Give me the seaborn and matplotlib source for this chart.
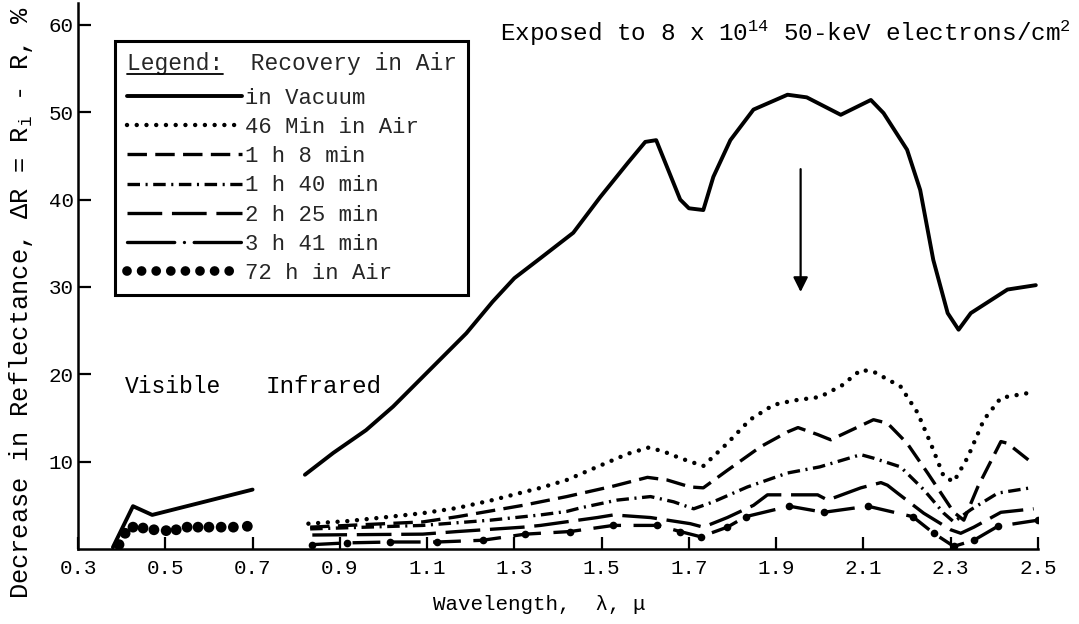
import numpy as np
import pandas as pd
import matplotlib
matplotlib.use("Agg")
import matplotlib.pyplot as plt
from matplotlib.lines import Line2D
import seaborn as sns

# ---------------- data ----------------
vac_vis_x = [0.38, 0.426, 0.47, 0.70]
vac_vis_y = [0.2, 4.9, 3.9, 6.8]

vac_ir_x = [0.82, 0.885, 0.96, 1.022, 1.09, 1.19, 1.25, 1.30, 1.36, 1.435, 1.497, 1.56,
            1.60, 1.625, 1.68, 1.70, 1.733, 1.756, 1.795, 1.848, 1.926, 1.97, 2.048,
            2.117, 2.146, 2.20, 2.23, 2.26, 2.293, 2.318, 2.346, 2.43, 2.495]
vac_ir_y = [8.5, 11.0, 13.6, 16.3, 19.7, 24.7, 28.3, 31.0, 33.3, 36.2, 40.3, 44.2,
            46.6, 46.8, 40.0, 39.0, 38.8, 42.6, 46.8, 50.3, 52.0, 51.7, 49.7,
            51.4, 49.9, 45.7, 41.1, 33.1, 27.0, 25.1, 27.0, 29.7, 30.2]

m46_x = [0.828, 0.92, 1.016, 1.09, 1.17, 1.25, 1.32, 1.36, 1.42, 1.513, 1.56, 1.607,
         1.64, 1.68, 1.733, 1.788, 1.84, 1.894, 1.94, 2.0, 2.05, 2.094, 2.123, 2.185,
         2.224, 2.254, 2.284, 2.307, 2.339, 2.376, 2.415, 2.483]
m46_y = [2.9, 3.2, 3.7, 4.1, 4.7, 5.6, 6.5, 7.0, 7.9, 9.9, 10.9, 11.6,
         11.2, 10.4, 9.5, 12.1, 14.8, 16.5, 17.0, 17.4, 18.7, 20.5, 20.3, 18.6,
         15.6, 12.1, 8.3, 7.7, 10.5, 14.8, 17.3, 17.9]

h1m8_x = [0.832, 1.09, 1.17, 1.32, 1.42, 1.527, 1.605, 1.65, 1.703, 1.733, 1.788, 1.864,
          1.926, 1.95, 1.995, 2.025, 2.123, 2.155, 2.2, 2.247, 2.307, 2.33, 2.362,
          2.415, 2.43, 2.483]
h1m8_y = [2.5, 3.1, 3.7, 5.0, 6.0, 7.2, 8.2, 7.9, 7.1, 7.0, 9.0, 11.7,
          13.4, 13.9, 13.1, 12.5, 14.8, 14.4, 12.1, 8.7, 4.2, 3.3, 7.1,
          12.3, 12.1, 10.0]

h1m40_x = [0.832, 1.09, 1.245, 1.36, 1.42, 1.451, 1.536, 1.612, 1.665, 1.711, 1.756,
           1.834, 1.926, 2.0, 2.094, 2.123, 2.185, 2.238, 2.284, 2.307, 2.346, 2.408, 2.483]
h1m40_y = [2.3, 2.7, 3.3, 3.9, 4.3, 4.7, 5.6, 6.0, 5.4, 4.6, 5.4,
           7.1, 8.7, 9.4, 10.8, 10.4, 9.4, 6.8, 4.1, 3.1, 4.5, 6.4, 7.0]

h2m25_x = [0.837, 1.09, 1.17, 1.32, 1.36, 1.49, 1.527, 1.612, 1.703, 1.733, 1.788,
           1.848, 1.88, 1.995, 2.018, 2.094, 2.14, 2.155, 2.178, 2.238, 2.30, 2.323,
           2.353, 2.415, 2.49]
h2m25_y = [1.6, 1.7, 2.0, 2.5, 2.7, 3.6, 3.9, 3.6, 2.9, 2.5, 3.6,
           5.0, 6.2, 6.2, 5.6, 7.0, 7.6, 7.3, 6.4, 4.1, 2.2, 1.8,
           2.5, 4.2, 4.6]

h3m41_x = [0.837, 0.917, 1.016, 1.123, 1.227, 1.325, 1.428, 1.527, 1.628, 1.68, 1.727,
           1.788, 1.83, 1.93, 2.009, 2.11, 2.213, 2.261, 2.307, 2.353, 2.408, 2.50]
h3m41_y = [0.5, 0.7, 0.8, 0.8, 1.0, 1.7, 2.0, 2.7, 2.7, 2.0, 1.4,
           2.5, 3.7, 4.9, 4.2, 4.9, 3.7, 1.8, 0.3, 1.0, 2.6, 3.3]

h72_x = [0.394, 0.408, 0.426, 0.449, 0.474, 0.502, 0.525, 0.55, 0.575, 0.60, 0.628, 0.656, 0.688]
h72_y = [0.5, 1.8, 2.5, 2.4, 2.2, 2.1, 2.2, 2.5, 2.5, 2.5, 2.5, 2.5, 2.6]

labels = ["in Vacuum", "46 Min in Air", "1 h 8 min", "1 h 40 min",
          "2 h 25 min", "3 h 41 min", "72 h in Air"]
x_ticks = [0.3, 0.5, 0.7, 0.9, 1.1, 1.3, 1.5, 1.7, 1.9, 2.1, 2.3, 2.5]
x_ticklabels = ["0.3", "0.5", "0.7", "0.9", "1.1", "1.3", "1.5", "1.7", "1.9", "2.1", "2.3", "2.5"]
y_ticks = [10, 20, 30, 40, 50, 60]

arrow_x = 1.956
arrow_from, arrow_to = 43.8, 29.1

# ---------------- style ----------------
sns.set_theme(style="white")
FONT = ["Liberation Mono", "DejaVu Sans Mono"]
plt.rcParams["font.family"] = FONT
plt.rcParams["mathtext.default"] = "regular"
plt.rcParams["lines.scale_dashes"] = False

fig = plt.figure(figsize=(10.79, 6.24), dpi=100)
ax = fig.add_axes([0.0723, 0.1202, 0.8897, 0.875])

K = "black"

def draw(x, y, **kw):
    df = pd.DataFrame({"x": x, "y": y})
    sns.lineplot(data=df, x="x", y="y", ax=ax, color=K, estimator=None, sort=False, **kw)
    return ax.lines[-1]

h_vac = draw(vac_vis_x, vac_vis_y, lw=2.8, solid_joinstyle="round")
draw(vac_ir_x, vac_ir_y, lw=2.8, solid_joinstyle="round")
h_46 = draw(m46_x, m46_y, lw=3.2, linestyle=(0, (0.01, 7.0)), dash_capstyle="round")
h_108 = draw(h1m8_x, h1m8_y, lw=2.4, linestyle=(0, (14, 6)))
h_140 = draw(h1m40_x, h1m40_y, lw=2.4, linestyle=(0, (9, 4, 1.5, 4)))
h_225 = draw(h2m25_x, h2m25_y, lw=2.4, linestyle=(0, (25, 7)))
draw(h3m41_x, h3m41_y, lw=2.4, linestyle=(0, (20, 9)), marker="o",
     markersize=5.5, markeredgewidth=0)
sns.scatterplot(x=h72_x, y=h72_y, ax=ax, color=K, s=60, edgecolor="none")

ax.annotate("", xy=(arrow_x, arrow_to), xytext=(arrow_x, arrow_from),
            arrowprops=dict(arrowstyle="-|>", color=K, lw=1.6, mutation_scale=22))

# axes
ax.set_xlim(0.3, 2.5)
ax.set_ylim(0, 62.5)
ax.set_xticks(x_ticks)
ax.set_xticklabels(x_ticklabels)
ax.set_yticks(y_ticks)
sns.despine(ax=ax)
for s in ["left", "bottom"]:
    ax.spines[s].set_linewidth(1.8)
    ax.spines[s].set_color(K)
ax.tick_params(axis="both", direction="in", length=9, width=1.6, colors=K,
               labelsize=15, bottom=True, left=True)
ax.tick_params(axis="x", pad=7)
ax.tick_params(axis="y", pad=3)

ax.set_xlabel("Wavelength,  λ, μ", fontsize=15, color=K)
ax.xaxis.set_label_coords(0.48, -0.085)
ax.set_ylabel("Decrease in Reflectance, ΔR = R$_{i}$ - R, %", fontsize=18.3, color=K)
ax.yaxis.set_label_coords(-0.045, 0.45)

ax.text(0.44, 0.945, "Exposed to 8 x 10$^{14}$ 50-keV electrons/cm$^{2}$",
        transform=ax.transAxes, fontsize=17.5, ha="left", va="center", color=K)
ax.text(0.049, 0.297, "Visible", transform=ax.transAxes, fontsize=16.5,
        ha="left", va="center", color=K)
ax.text(0.195, 0.297, "Infrared", transform=ax.transAxes, fontsize=17.5,
        ha="left", va="center", color=K)

# legend
h_341 = Line2D([], [], color=K, lw=2.4, linestyle=(0, (34, 7, 0.01, 7)),
               dash_capstyle="round")
h_72 = Line2D([], [], color=K, lw=7, linestyle=(0, (0.01, 10.5)), dash_capstyle="round")
handles = [h_vac, h_46, h_108, h_140, h_225, h_341, h_72]
leg = ax.legend(handles, labels, title="Legend:  Recovery in Air", loc="upper left",
                bbox_to_anchor=(0.039, 0.93), borderaxespad=0, fontsize=16,
                title_fontsize=16.5, handlelength=5.2, handletextpad=0.15,
                labelspacing=0.37, frameon=True, fancybox=False, alignment="left",
                borderpad=0.5, numpoints=1)
leg._legend_box.sep = 9
leg.get_frame().set_edgecolor(K)
leg.get_frame().set_linewidth(2.2)
leg.get_frame().set_facecolor("white")
leg.get_frame().set_alpha(1)

fig.canvas.draw()
r = fig.canvas.get_renderer()
bb = leg.get_title().get_window_extent(r)
W, H = fig.get_size_inches() * fig.dpi
x0 = bb.x0
x1 = bb.x0 + bb.width * 7 / 24
yy = bb.y0 + 1
fig.add_artist(Line2D([x0 / W, x1 / W], [yy / H, yy / H], color=K, lw=1.3,
                      transform=fig.transFigure))

fig.savefig("out.png", dpi=100)
